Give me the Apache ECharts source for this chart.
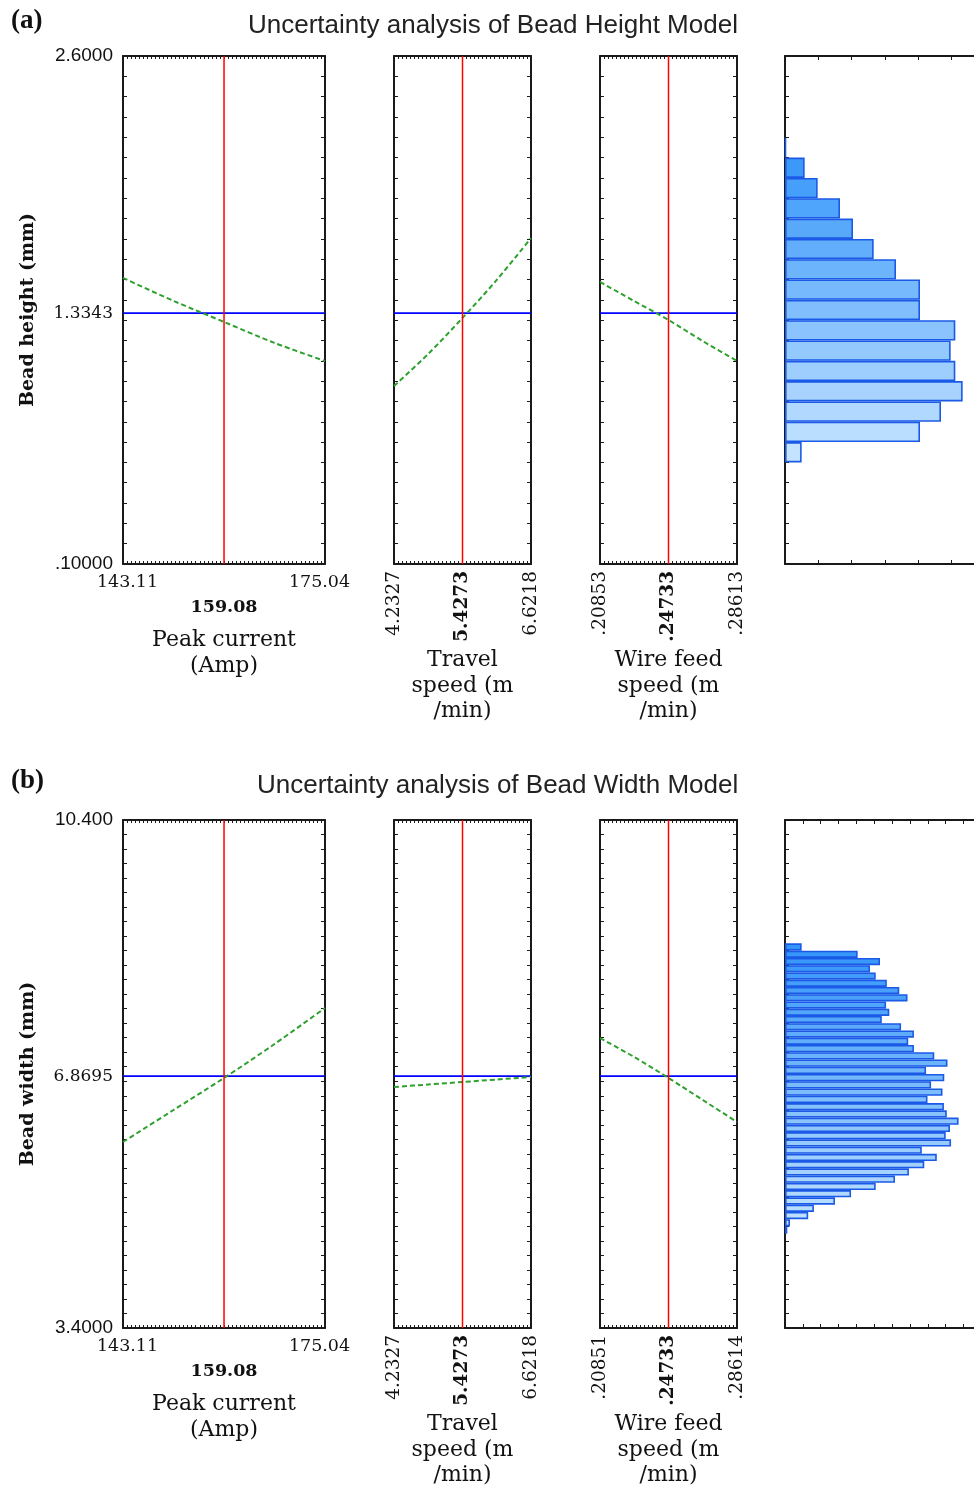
<!DOCTYPE html>
<html><head><meta charset="utf-8">
<script src="https://cdn.jsdelivr.net/npm/echarts@6/dist/echarts.min.js"></script>
<style>html,body{margin:0;padding:0;background:#fff}#c{width:974px;height:1488px}</style>
</head><body><div id="c"></div><script>
// ---------------- data ----------------
const panelLetters = ['(a)', '(b)'];
const chartTitles = ['Uncertainty analysis of Bead Height Model', 'Uncertainty analysis of Bead Width Model'];
const factorNames = ['Peak current\n(Amp)', 'Travel\nspeed (m\n/min)', 'Wire feed\nspeed (m\n/min)'];
const responseNames = ['Bead height (mm)', 'Bead width (mm)'];

// x-axis tick values & labels (min, current setting, max)
const peakTicksA = [143.11, 159.08, 175.04];
const peakLabelsA = ['143.11', '159.08', '175.04'];
const travelTicksA = [4.2327, 5.4273, 6.6218];
const travelLabelsA = ['4.2327', '5.4273', '6.6218'];
const wireTicksA = [0.20853, 0.24733, 0.28613];
const wireLabelsA = ['.20853', '.24733', '.28613'];

const peakTicksB = [143.11, 159.08, 175.04];
const peakLabelsB = ['143.11', '159.08', '175.04'];
const travelTicksB = [4.2327, 5.4273, 6.6218];
const travelLabelsB = ['4.2327', '5.4273', '6.6218'];
const wireTicksB = [0.20851, 0.24733, 0.28614];
const wireLabelsB = ['.20851', '.24733', '.28614'];

// y-axis tick values & labels (min, predicted, max)
const heightTicks = [0.1, 1.3343, 2.6];
const heightLabels = ['.10000', '1.3343', '2.6000'];
const widthTicks = [3.4, 6.8695, 10.4];
const widthLabels = ['3.4000', '6.8695', '10.400'];

// response curves (Bead height)
const peakXA = [143.11, 151.09, 159.08, 167.06, 175.04];
const heightVsPeak = [1.508, 1.395, 1.291, 1.188, 1.099];
const travelXA = [4.2327, 4.8300, 5.4273, 6.0245, 6.6218];
const heightVsTravel = [0.976, 1.134, 1.311, 1.498, 1.704];
const wireXA = [0.20853, 0.22793, 0.24733, 0.26673, 0.28613];
const heightVsWire = [1.488, 1.394, 1.301, 1.197, 1.099];

// response curves (Bead width)
const peakXB = [143.11, 151.09, 159.08, 167.06, 175.04];
const widthVsPeak = [5.963, 6.404, 6.845, 7.313, 7.809];
const travelXB = [4.2327, 4.8300, 5.4273, 6.0245, 6.6218];
const widthVsTravel = [6.721, 6.755, 6.790, 6.824, 6.859];
const wireXB = [0.20851, 0.22792, 0.24733, 0.26673, 0.28614];
const widthVsWire = [7.396, 7.134, 6.845, 6.542, 6.239];

// histograms (counts from lowest bin upward)
const heightBinStart = 0.1, heightBinStep = 0.1, heightBinCount = 25, heightFirstBin = 5;
const heightHist = [5.0, 40.5, 46.8, 53.3, 51.1, 49.7, 51.1, 40.5, 40.5, 33.3, 26.6, 20.4, 16.5, 9.8, 5.9, 0.3];
const widthBinStart = 3.4, widthBinStep = 0.1, widthBinCount = 70, widthFirstBin = 13;
const widthHist = [0.65, 1.4, 6.5, 8.1, 14.0, 18.5, 25.4, 30.8, 34.7, 39.0, 42.5, 38.3, 46.5, 45.0, 46.2, 48.6,
  45.3, 44.5, 39.9, 44.1, 40.9, 44.6, 39.5, 45.5, 41.8, 36.1, 34.5, 36.1, 32.5, 27.1, 29.2, 28.3, 34.3, 32.0,
  28.5, 25.4, 23.8, 26.6, 20.35, 4.67];

// ---------------- build ----------------
const SERIF = 'DejaVu Serif', SANS = 'Liberation Sans';
const LINE = {color: '#1a1a1a', width: 2};
const TICK = {color: '#1a1a1a', width: 1};
const grids = [], xAxes = [], yAxes = [], series = [];

function nearestIdx(arr, v) {
  let b = 0;
  for (let i = 1; i < arr.length; i++) if (Math.abs(arr[i] - v) < Math.abs(arr[b] - v)) b = i;
  return b;
}

function panel(top, left, width, nX, nY, xTicks, xLabels, yTicks, yLabels, xs, ys, cfg) {
  // tick grid
  let g = grids.length;
  grids.push({left, top, width, height: 508, outerBoundsMode: 'none'});
  const tickAx = (pos, n, len, line) => ({
    type: 'value', gridIndex: g, position: pos, min: 0, max: n, interval: 1,
    axisLine: {show: line, onZero: false, lineStyle: LINE},
    axisTick: {show: true, inside: true, length: len, lineStyle: TICK},
    axisLabel: {show: false}, splitLine: {show: false}
  });
  xAxes.push(tickAx('bottom', nX, 3, false));
  xAxes.push(tickAx('top', nX, 3, true));
  yAxes.push(tickAx('left', nY, 4, false));
  yAxes.push(tickAx('right', nY, 4, true));

  // data grid
  g = grids.length;
  grids.push({left, top, width, height: 508, outerBoundsMode: 'none'});
  const xi = xAxes.length, yi = yAxes.length;
  const fs = cfg.rotate ? 18.5 : 17.5;
  xAxes.push({
    type: 'value', gridIndex: g, position: 'bottom', min: xTicks[0], max: xTicks[2],
    axisLine: {show: true, onZero: false, lineStyle: LINE},
    axisTick: {show: false}, splitLine: {show: false},
    axisLabel: {
      show: true, customValues: xTicks, rotate: cfg.rotate ? 90 : 0, margin: cfg.rotate ? 7 : 9,
      color: '#111', fontFamily: SERIF, fontSize: fs,
      formatter: v => {
        const i = nearestIdx(xTicks, v);
        if (i === 1) return '{b|' + xLabels[i] + '}';
        if (cfg.rotate) return '{n|' + xLabels[i] + '}';
        return (i === 0 ? '{l|' : '{r|') + xLabels[i] + '}';
      },
      rich: {
        n: {fontFamily: SERIF, fontSize: fs, color: '#111'},
        l: {fontFamily: SERIF, fontSize: fs, color: '#111', padding: [0, 0, 0, 9]},
        r: {fontFamily: SERIF, fontSize: fs, color: '#111', padding: [0, 11, 0, 0]},
        b: {fontFamily: SERIF, fontSize: fs, fontWeight: 'bold', color: '#111', padding: cfg.rotate ? 0 : [25, 0, 0, 0]}
      }
    },
    name: cfg.name, nameLocation: 'middle', nameGap: cfg.nameGap, nameMoveOverlap: false,
    nameTextStyle: {fontFamily: SERIF, fontSize: 22, lineHeight: 25.5, color: '#111', align: 'center'}
  });
  yAxes.push({
    type: 'value', gridIndex: g, position: 'left', min: yTicks[0], max: yTicks[2],
    axisLine: {show: true, onZero: false, lineStyle: LINE},
    axisTick: {show: false}, splitLine: {show: false},
    axisLabel: {
      show: !!cfg.yName, customValues: yTicks, margin: 10,
      formatter: v => { const i = nearestIdx(yTicks, v); return i === 1 ? '{m|' + yLabels[i] + '}' : '{s|' + yLabels[i] + '}'; },
      rich: {
        s: {fontFamily: SANS, fontSize: 19, color: '#111'},
        m: {fontFamily: SERIF, fontSize: 17, color: '#111'}
      }
    },
    name: cfg.yName || '', nameLocation: 'middle', nameGap: 85, nameMoveOverlap: false,
    nameTextStyle: {fontFamily: SERIF, fontSize: 19, fontWeight: 'bold', color: '#111'}
  });
  // horizontal predicted value line
  series.push({type: 'line', xAxisIndex: xi, yAxisIndex: yi, symbol: 'none', silent: true,
    data: [[xTicks[0], yTicks[1]], [xTicks[2], yTicks[1]]], lineStyle: {color: '#0000ff', width: 1.8}});
  // response curve
  series.push({type: 'line', xAxisIndex: xi, yAxisIndex: yi, symbol: 'none', silent: true, smooth: 0.3,
    data: xs.map((x, i) => [x, ys[i]]), lineStyle: {color: '#2ea02e', width: 2, type: [5, 3]}});
  // current setting line
  series.push({type: 'line', xAxisIndex: xi, yAxisIndex: yi, symbol: 'none', silent: true,
    data: [[xTicks[1], yTicks[0]], [xTicks[1], yTicks[2]]], lineStyle: {color: '#ff0000', width: 1.5}});
}

function lerpColor(t) {
  const a = [50, 148, 250], b = [196, 227, 255];
  return 'rgb(' + a.map((c, k) => Math.round(c + (b[k] - c) * t)).join(',') + ')';
}

function hist(top, binStart, binStep, binCount, firstBin, counts, xMax, xInterval, tickInterval) {
  const g = grids.length;
  grids.push({left: 785, top, width: 200, height: 508, outerBoundsMode: 'none'});
  const cats = [];
  for (let i = 0; i < binCount; i++) cats.push((binStart + i * binStep).toFixed(1));
  const n = counts.length;
  const data = cats.map((c, i) => {
    const k = i - firstBin;
    if (k < 0 || k >= n) return '-';
    return {value: counts[k], itemStyle: {color: lerpColor((n - 1 - k) / (n - 1))}};
  });
  const xi = xAxes.length;
  const hx = pos => ({
    type: 'value', gridIndex: g, position: pos, min: 0, max: xMax, interval: xInterval,
    axisLine: {show: true, onZero: false, lineStyle: LINE},
    axisTick: {show: true, inside: true, length: 4, lineStyle: TICK},
    axisLabel: {show: false}, splitLine: {show: false}
  });
  xAxes.push(hx('bottom'));
  xAxes.push(hx('top'));
  const yi = yAxes.length;
  yAxes.push({type: 'category', gridIndex: g, data: cats, position: 'left',
    axisLine: {show: true, onZero: false, lineStyle: LINE},
    axisTick: {show: true, inside: true, length: 4, interval: tickInterval, lineStyle: TICK},
    axisLabel: {show: false}, splitLine: {show: false}});
  series.push({type: 'bar', xAxisIndex: xi, yAxisIndex: yi, data, barCategoryGap: '0%', silent: true,
    itemStyle: {borderColor: '#1a5ae6', borderWidth: 1.6}});
}

const TA = 56, TB = 820;
panel(TA, 123, 202, 50, 25, peakTicksA, peakLabelsA, heightTicks, heightLabels, peakXA, heightVsPeak,
  {rotate: false, name: factorNames[0], nameGap: 64, yName: responseNames[0]});
panel(TA, 394, 137, 34, 25, travelTicksA, travelLabelsA, heightTicks, heightLabels, travelXA, heightVsTravel,
  {rotate: true, name: factorNames[1], nameGap: 84});
panel(TA, 600, 137, 34, 25, wireTicksA, wireLabelsA, heightTicks, heightLabels, wireXA, heightVsWire,
  {rotate: true, name: factorNames[2], nameGap: 84});
hist(TA, heightBinStart, heightBinStep, heightBinCount, heightFirstBin, heightHist, 60, 10, 0);

panel(TB, 123, 202, 50, 35, peakTicksB, peakLabelsB, widthTicks, widthLabels, peakXB, widthVsPeak,
  {rotate: false, name: factorNames[0], nameGap: 64, yName: responseNames[1]});
panel(TB, 394, 137, 34, 35, travelTicksB, travelLabelsB, widthTicks, widthLabels, travelXB, widthVsTravel,
  {rotate: true, name: factorNames[1], nameGap: 84});
panel(TB, 600, 137, 34, 35, wireTicksB, wireLabelsB, widthTicks, widthLabels, wireXB, widthVsWire,
  {rotate: true, name: factorNames[2], nameGap: 84});
hist(TB, widthBinStart, widthBinStep, widthBinCount, widthFirstBin, widthHist, 56, 5, 1);

const letterStyle = {fontFamily: 'Liberation Serif', fontWeight: 'bold', fontSize: 27, color: '#111'};
const titleStyle = {fontFamily: SANS, fontWeight: 'normal', fontSize: 26, color: '#222'};
const option = {
  backgroundColor: '#fff',
  animation: false,
  title: [
    {text: panelLetters[0], left: 11, top: 8, padding: 0, textStyle: letterStyle},
    {text: chartTitles[0], left: 248, top: 13, padding: 0, textStyle: titleStyle},
    {text: panelLetters[1], left: 11, top: 768, padding: 0, textStyle: letterStyle},
    {text: chartTitles[1], left: 257, top: 773, padding: 0, textStyle: titleStyle}
  ],
  grid: grids, xAxis: xAxes, yAxis: yAxes, series
};
const chart = echarts.init(document.getElementById('c'));
chart.setOption(option);
</script></body></html>
